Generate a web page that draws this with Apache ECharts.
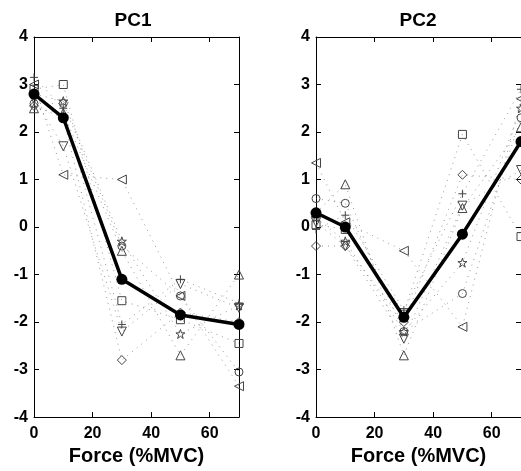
<!DOCTYPE html>
<html>
<head>
<meta charset="utf-8">
<script src="https://cdn.jsdelivr.net/npm/echarts@6/dist/echarts.min.js"></script>
<style>
  html, body { margin: 0; padding: 0; background: #fff; }
  #chart { width: 521px; height: 471px; }
</style>
</head>
<body>
<div id="chart"></div>
<script>
// Force levels (% of maximum voluntary contraction)
const forceLevels = [0, 10, 30, 50, 70];
const xTicks = [0, 20, 40, 60];
const yTicks = [-4, -3, -2, -1, 0, 1, 2, 3, 4];

// Group mean scores
const pc1Mean = [2.8, 2.3, -1.1, -1.85, -2.05];
const pc2Mean = [0.3, 0.0, -1.9, -0.15, 1.8];

// Individual subject scores, PC1
const pc1Subj1 = [2.6, 2.6, -0.4, -1.45, -3.05];
const pc1Subj2 = [2.9, 3.0, -1.55, -1.95, -2.45];
const pc1Subj3 = [2.5, 2.4, -0.5, -2.7, -1.0];
const pc1Subj4 = [2.7, 1.7, -2.2, -1.2, -1.7];
const pc1Subj5 = [3.0, 1.1, 1.0, -1.45, -3.35];
const pc1Subj6 = [2.8, 2.65, -0.3, -2.25, -1.65];
const pc1Subj7 = [3.15, 2.5, -2.05, -1.1, -1.6];
const pc1Subj8 = [2.55, 2.3, -2.8, -1.8, -2.0];

// Individual subject scores, PC2
const pc2Subj1 = [0.6, 0.5, -2.2, -1.4, 2.3];
const pc2Subj2 = [0.05, -0.05, -1.8, 1.95, -0.2];
const pc2Subj3 = [0.3, 0.9, -2.7, 0.4, 2.1];
const pc2Subj4 = [0.1, -0.4, -2.35, 0.45, 1.2];
const pc2Subj5 = [1.35, 0.1, -0.5, -2.1, 2.7];
const pc2Subj6 = [0.2, -0.3, -2.2, -0.75, 2.5];
const pc2Subj7 = [-0.05, 0.25, -1.75, 0.7, 2.9];
const pc2Subj8 = [-0.4, -0.4, -2.0, 1.1, 1.0];

const STAR = 'path://M5,0L6.2,3.8L10,3.8L6.9,6.1L8.1,10L5,7.6L1.9,10L3.1,6.1L0,3.8L3.8,3.8Z';
const PLUS = 'path://M5,0L5,10M0,5L10,5';
// One marker style per subject
const markers = [
  { symbol: 'circle', rotate: 0, size: 8 },
  { symbol: 'rect', rotate: 0, size: 8 },
  { symbol: 'triangle', rotate: 0, size: 9 },
  { symbol: 'triangle', rotate: 180, size: 9 },
  { symbol: 'triangle', rotate: 90, size: 9 },
  { symbol: STAR, rotate: 0, size: 9 },
  { symbol: PLUS, rotate: 0, size: 8 },
  { symbol: 'diamond', rotate: 0, size: 9 }
];

const FONT = '"Liberation Sans", Arial, Helvetica, sans-serif';

function pairs(values) {
  return forceLevels.map((f, i) => [f, values[i]]);
}

function subjectSeries(list, gridIdx) {
  return list.map((vals, k) => ({
    type: 'line',
    xAxisIndex: gridIdx * 2,
    yAxisIndex: gridIdx * 2,
    data: pairs(vals),
    symbol: markers[k].symbol,
    symbolRotate: markers[k].rotate,
    symbolSize: markers[k].size,
    showAllSymbol: true,
    lineStyle: { color: '#555', width: 1, type: [1, 5], opacity: 0.6 },
    itemStyle: { color: 'rgba(255,255,255,0)', borderColor: '#444', borderWidth: 1 },
    emphasis: { disabled: true },
    z: 2,
    animation: false
  }));
}

function meanSeries(vals, gridIdx) {
  return {
    type: 'line',
    xAxisIndex: gridIdx * 2,
    yAxisIndex: gridIdx * 2,
    data: pairs(vals),
    symbol: 'circle',
    symbolSize: 11,
    lineStyle: { color: '#000', width: 3.5 },
    itemStyle: { color: '#000' },
    z: 5,
    animation: false
  };
}

function axesFor(gridIdx) {
  const tick = { show: true, inside: true, length: 5, lineStyle: { color: '#000', width: 1 } };
  const line = { show: true, onZero: false, lineStyle: { color: '#000', width: 1 } };
  const xs = [
    {
      gridIndex: gridIdx, type: 'value', min: 0, max: 70, interval: 20, position: 'bottom',
      axisLine: line, axisTick: tick, splitLine: { show: false },
      axisLabel: { show: true, showMaxLabel: false, margin: 8, color: '#000', fontFamily: FONT, fontWeight: 'bold', fontSize: 16 },
      name: 'Force (%MVC)', nameLocation: 'middle', nameGap: 27,
      nameTextStyle: { color: '#000', fontFamily: FONT, fontWeight: 'bold', fontSize: 20 }
    },
    {
      gridIndex: gridIdx, type: 'value', min: 0, max: 70, interval: 20, position: 'top',
      axisLine: line, axisTick: tick, splitLine: { show: false }, axisLabel: { show: false }
    }
  ];
  const ys = [
    {
      gridIndex: gridIdx, type: 'value', min: yTicks[0], max: yTicks[yTicks.length - 1], interval: 1, position: 'left',
      axisLine: line, axisTick: tick, splitLine: { show: false },
      axisLabel: { show: true, margin: 6, color: '#000', fontFamily: FONT, fontWeight: 'bold', fontSize: 16 }
    },
    {
      gridIndex: gridIdx, type: 'value', min: yTicks[0], max: yTicks[yTicks.length - 1], interval: 1, position: 'right',
      axisLine: line, axisTick: tick, splitLine: { show: false }, axisLabel: { show: false }
    }
  ];
  return { xs, ys };
}

const a0 = axesFor(0), a1 = axesFor(1);

const chart = echarts.init(document.getElementById('chart'), null, { renderer: 'canvas' });
chart.setOption({
  animation: false,
  backgroundColor: '#fff',
  grid: [
    { left: 34, top: 37, width: 205, height: 383 },
    { left: 316, top: 37, width: 206, height: 383 }
  ],
  xAxis: [a0.xs[0], a0.xs[1], a1.xs[0], a1.xs[1]],
  yAxis: [a0.ys[0], a0.ys[1], a1.ys[0], a1.ys[1]],
  graphic: [
    { type: 'text', x: 133, y: 21, style: { text: 'PC1', fill: '#000', font: 'bold 19px ' + FONT, textAlign: 'center', textVerticalAlign: 'middle' } },
    { type: 'text', x: 418, y: 21, style: { text: 'PC2', fill: '#000', font: 'bold 19px ' + FONT, textAlign: 'center', textVerticalAlign: 'middle' } }
  ],
  series: [
    ...subjectSeries([pc1Subj1, pc1Subj2, pc1Subj3, pc1Subj4, pc1Subj5, pc1Subj6, pc1Subj7, pc1Subj8], 0),
    meanSeries(pc1Mean, 0),
    ...subjectSeries([pc2Subj1, pc2Subj2, pc2Subj3, pc2Subj4, pc2Subj5, pc2Subj6, pc2Subj7, pc2Subj8], 1),
    meanSeries(pc2Mean, 1)
  ]
});
</script>
</body>
</html>
